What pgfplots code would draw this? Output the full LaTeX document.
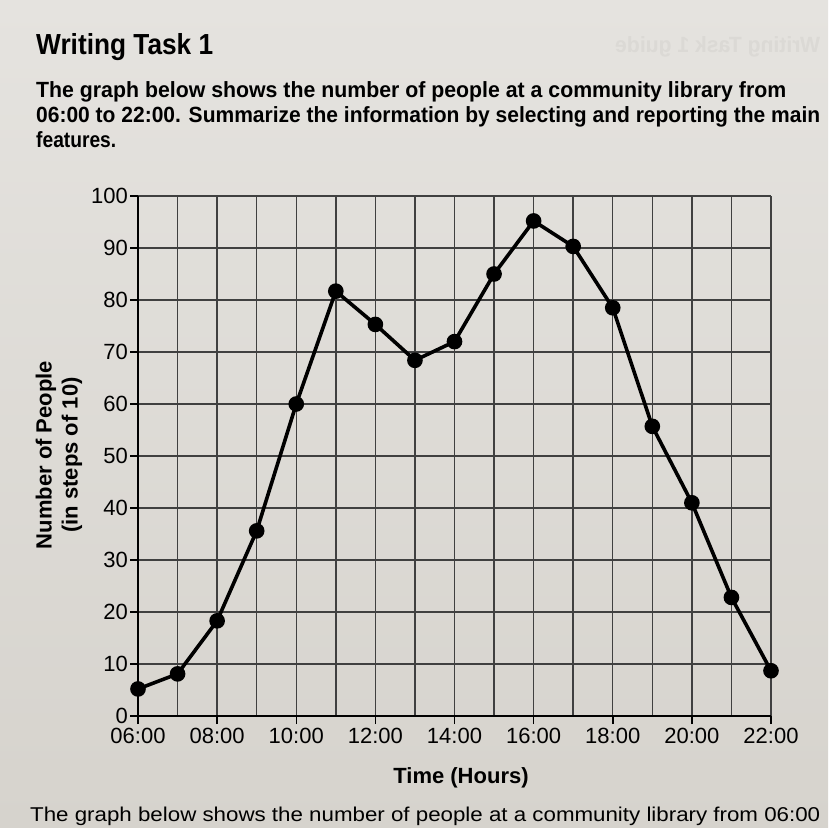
\documentclass[border=0pt]{standalone}
\usepackage{fontspec}
\setmainfont{Liberation Sans}
\usepackage{graphicx}
\usepackage{pgfplots}
\pgfplotsset{compat=1.18}
\definecolor{paper1}{RGB}{229,227,223}
\definecolor{paper2}{RGB}{214,211,205}
\definecolor{ghost}{RGB}{219,217,213}
\begin{document}
\begin{tikzpicture}[x=1pt,y=1pt]
\useasboundingbox (0,0) rectangle (828,828);
\shade[top color=paper1, bottom color=paper2] (0,0) rectangle (828,828);
% faint show-through text
\node[anchor=base east, inner sep=0, text=ghost, font=\fontsize{22}{24}\selectfont\bfseries, xscale=-1] at (615,775) {\resizebox{205pt}{\height}{Writing Task 1 guide}};
% title and task text
\node[anchor=base west, inner sep=0, font=\fontsize{29}{30}\selectfont\bfseries] at (36,773) {\resizebox{177pt}{\height}{Writing Task 1}};
\node[anchor=base west, inner sep=0, font=\fontsize{22}{24}\selectfont\bfseries] at (36,730) {\resizebox{750pt}{\height}{The graph below shows the number of people at a community library from}};
\node[anchor=base west, inner sep=0, font=\fontsize{22}{24}\selectfont\bfseries] at (36,705) {\resizebox{784pt}{\height}{06:00 to 22:00. Summarize the information by selecting and reporting the main}};
\node[anchor=base west, inner sep=0, font=\fontsize{22}{24}\selectfont\bfseries] at (36,680) {\resizebox{80pt}{\height}{features.}};
% partly visible text at the bottom
\node[anchor=base west, inner sep=0, font=\fontsize{20}{24}\selectfont] at (30,6) {\resizebox{790pt}{\height}{The graph below shows the number of people at a community library from 06:00}};
\begin{axis}[
  at={(138pt,112pt)}, anchor=south west,
  scale only axis, width=633pt, height=520pt,
  xmin=6, xmax=22, ymin=0, ymax=100,
  clip=false,
  axis lines=left,
  axis line style={-, line width=2.6pt, black},
  xtick={6,8,10,12,14,16,18,20,22},
  xticklabels={06:00,08:00,10:00,12:00,14:00,16:00,18:00,20:00,22:00},
  minor xtick={7,9,11,13,15,17,19,21},
  ytick={0,10,20,30,40,50,60,70,80,90,100},
  yticklabels={0,10,20,30,40,50,60,70,80,90,100},
  grid=both,
  major grid style={line width=1.4pt, black!75},
  minor grid style={line width=1.4pt, black!75},
  tick align=outside,
  major tick length=8pt, minor tick length=0pt,
  tick style={line width=1.5pt, black},
  tick label style={font=\fontsize{22}{24}\selectfont},
  xticklabel style={inner sep=2pt, yshift=-2pt},
  yticklabel style={inner sep=2pt},
]
\addplot[black, line width=3.6pt, mark=*, mark size=6pt, mark options={fill=black}] coordinates {
(6,5.2) (7,8.1) (8,18.3) (9,35.6) (10,60) (11,81.7) (12,75.3) (13,68.4)
(14,72) (15,85) (16,95.2) (17,90.3) (18,78.5) (19,55.7) (20,41) (21,22.8) (22,8.7)
};
\end{axis}
\node[font=\fontsize{22}{26}\selectfont\bfseries, align=center, rotate=90, inner sep=0] at (59,373) {Number of People\\(in steps of 10)};
\node[anchor=base, font=\fontsize{22}{24}\selectfont\bfseries, inner sep=0] at (461,45) {Time (Hours)};
\end{tikzpicture}
\end{document}
